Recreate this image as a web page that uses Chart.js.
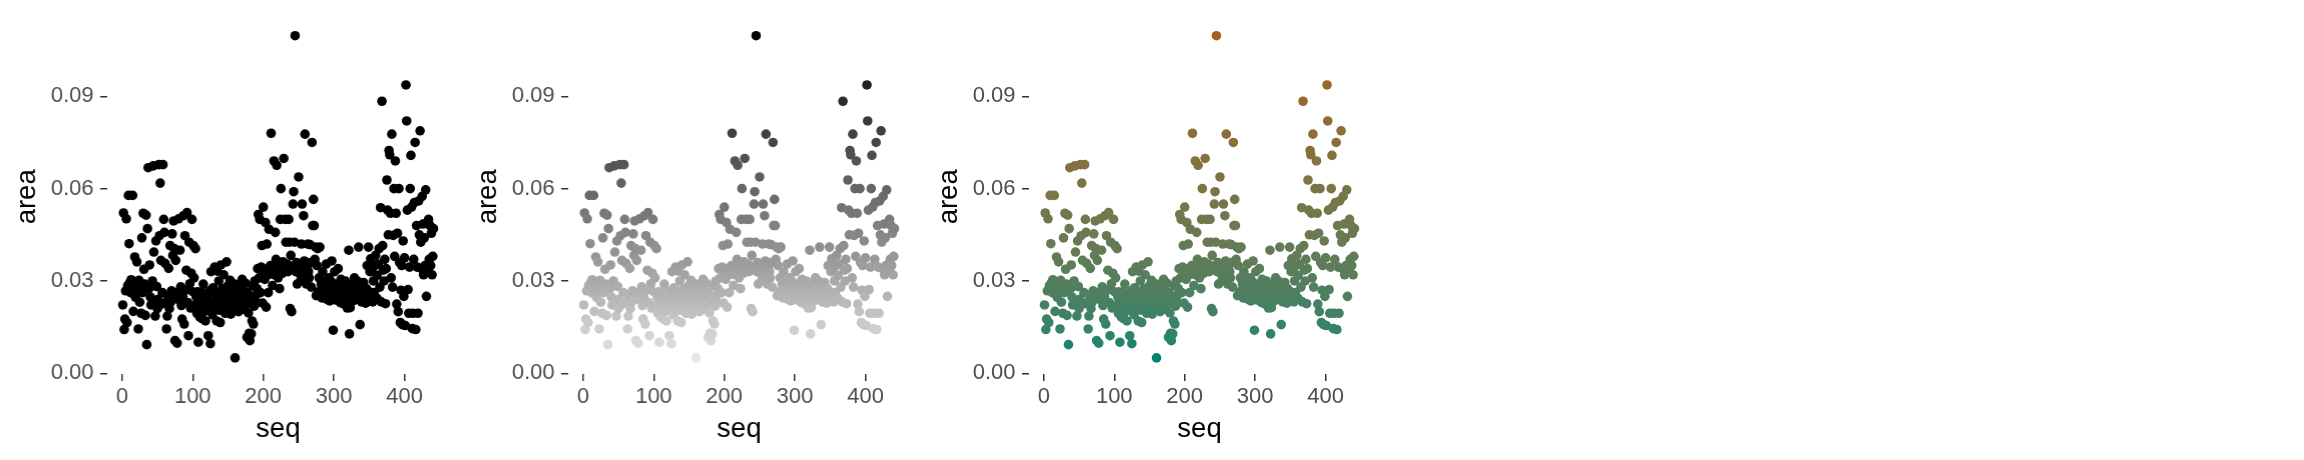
<!DOCTYPE html>
<html>
<head>
<meta charset="utf-8">
<script src="https://cdn.jsdelivr.net/npm/chart.js@4.4.1/dist/chart.umd.min.js"></script>
<style>
  html, body { margin: 0; padding: 0; background: #ffffff; }
  #wrap { position: relative; width: 2304px; height: 460px; }
  .panel { position: absolute; top: 0; width: 460.8px; height: 460px; }
</style>
</head>
<body>
<div id="wrap">
  <div class="panel" style="left:0px"><canvas id="plainCanvas"></canvas></div>
  <div class="panel" style="left:460.8px"><canvas id="greyCanvas"></canvas></div>
  <div class="panel" style="left:921.6px"><canvas id="brbgCanvas"></canvas></div>
</div>
<script>
// area per row, seq = row number (1..441)
const area = [
  0.0222, 0.0521, 0.0142, 0.0176, 0.0268, 0.0502, 0.0165, 0.0285, 0.0578, 0.0421,
  0.0295, 0.0262, 0.0304, 0.0276, 0.0578, 0.0201, 0.0288, 0.0378, 0.0247, 0.0270,
  0.0362, 0.0286, 0.0144, 0.0302, 0.0231, 0.0279, 0.0195, 0.0440, 0.0262, 0.0520,
  0.0338, 0.0290, 0.0188, 0.0514, 0.0093, 0.0470, 0.0668, 0.0275, 0.0352, 0.0248,
  0.0222, 0.0288, 0.0300, 0.0674, 0.0394, 0.0230, 0.0186, 0.0430, 0.0282, 0.0210,
  0.0240, 0.0678, 0.0447, 0.0618, 0.0367, 0.0225, 0.0262, 0.0678, 0.0500, 0.0458,
  0.0357, 0.0230, 0.0144, 0.0186, 0.0252, 0.0341, 0.0210, 0.0415, 0.0232, 0.0268,
  0.0453, 0.0383, 0.0495, 0.0405, 0.0106, 0.0367, 0.0245, 0.0098, 0.0263, 0.0502,
  0.0238, 0.0400, 0.0281, 0.0220, 0.0176, 0.0250, 0.0512, 0.0160, 0.0447, 0.0270,
  0.0335, 0.0522, 0.0230, 0.0122, 0.0426, 0.0291, 0.0212, 0.0325, 0.0500, 0.0265,
  0.0415, 0.0310, 0.0220, 0.0405, 0.0248, 0.0195, 0.0265, 0.0101, 0.0228, 0.0183,
  0.0210, 0.0240, 0.0178, 0.0262, 0.0290, 0.0200, 0.0232, 0.0170, 0.0255, 0.0218,
  0.0245, 0.0122, 0.0205, 0.0268, 0.0096, 0.0330, 0.0225, 0.0190, 0.0278, 0.0235,
  0.0345, 0.0212, 0.0258, 0.0170, 0.0332, 0.0228, 0.0300, 0.0205, 0.0165, 0.0352,
  0.0248, 0.0275, 0.0215, 0.0320, 0.0236, 0.0195, 0.0262, 0.0362, 0.0228, 0.0285,
  0.0210, 0.0248, 0.0302, 0.0192, 0.0270, 0.0232, 0.0215, 0.0258, 0.0290, 0.0050,
  0.0245, 0.0288, 0.0222, 0.0265, 0.0200, 0.0238, 0.0280, 0.0212, 0.0255, 0.0305,
  0.0230, 0.0268, 0.0208, 0.0248, 0.0292, 0.0225, 0.0117, 0.0262, 0.0196, 0.0130,
  0.0106, 0.0240, 0.0128, 0.0170, 0.0285, 0.0160, 0.0218, 0.0300, 0.0252, 0.0230,
  0.0275, 0.0340, 0.0516, 0.0310, 0.0500, 0.0262, 0.0345, 0.0415, 0.0228, 0.0540,
  0.0330, 0.0305, 0.0490, 0.0215, 0.0420, 0.0340, 0.0262, 0.0468, 0.0322, 0.0350,
  0.0780, 0.0330, 0.0285, 0.0345, 0.0690, 0.0320, 0.0458, 0.0370, 0.0676, 0.0338,
  0.0310, 0.0352, 0.0275, 0.0500, 0.0600, 0.0340, 0.0325, 0.0362, 0.0698, 0.0348,
  0.0500, 0.0426, 0.0335, 0.0355, 0.0330, 0.0500, 0.0426, 0.0210, 0.0383, 0.0200,
  0.0345, 0.0550, 0.0590, 0.0426, 0.1097, 0.0330, 0.0360, 0.0290, 0.0340, 0.0638,
  0.0325, 0.0350, 0.0302, 0.0420, 0.0550, 0.0335, 0.0512, 0.0365, 0.0777, 0.0318,
  0.0290, 0.0345, 0.0420, 0.0330, 0.0310, 0.0418, 0.0360, 0.0280, 0.0750, 0.0480,
  0.0565, 0.0480, 0.0370, 0.0410, 0.0252, 0.0350, 0.0405, 0.0265, 0.0310, 0.0410,
  0.0255, 0.0290, 0.0245, 0.0330, 0.0270, 0.0248, 0.0300, 0.0262, 0.0355, 0.0240,
  0.0280, 0.0252, 0.0310, 0.0235, 0.0268, 0.0298, 0.0365, 0.0242, 0.0140, 0.0275,
  0.0330, 0.0255, 0.0238, 0.0290, 0.0265, 0.0340, 0.0248, 0.0280, 0.0230, 0.0305,
  0.0262, 0.0245, 0.0285, 0.0225, 0.0270, 0.0300, 0.0240, 0.0255, 0.0212, 0.0290,
  0.0400, 0.0128, 0.0213, 0.0268, 0.0245, 0.0290, 0.0235, 0.0262, 0.0310, 0.0250,
  0.0275, 0.0240, 0.0300, 0.0258, 0.0410, 0.0245, 0.0158, 0.0285, 0.0232, 0.0268,
  0.0250, 0.0295, 0.0240, 0.0260, 0.0228, 0.0275, 0.0350, 0.0245, 0.0410, 0.0265,
  0.0330, 0.0372, 0.0250, 0.0340, 0.0232, 0.0300, 0.0262, 0.0350, 0.0383, 0.0245,
  0.0318, 0.0240, 0.0355, 0.0405, 0.0280, 0.0538, 0.0232, 0.0884, 0.0415, 0.0335,
  0.0300, 0.0370, 0.0226, 0.0340, 0.0628, 0.0530, 0.0450, 0.0724, 0.0710, 0.0520,
  0.0310, 0.0777, 0.0280, 0.0448, 0.0600, 0.0380, 0.0690, 0.0520, 0.0225, 0.0455,
  0.0200, 0.0600, 0.0360, 0.0165, 0.0270, 0.0350, 0.0158, 0.0430, 0.0250, 0.0375,
  0.0155, 0.0937, 0.0820, 0.0530, 0.0272, 0.0195, 0.0345, 0.0600, 0.0708, 0.0540,
  0.0145, 0.0195, 0.0370, 0.0555, 0.0750, 0.0142, 0.0480, 0.0345, 0.0195, 0.0560,
  0.0450, 0.0788, 0.0426, 0.0340, 0.0575, 0.0485, 0.0320, 0.0440, 0.0350, 0.0596,
  0.0250, 0.0490, 0.0330, 0.0500, 0.0370, 0.0480, 0.0350, 0.0455, 0.0320, 0.0380,
  0.0470
];

const xTicks = [0, 100, 200, 300, 400];
const yTicks = [0, 0.03, 0.06, 0.09];
const greyEnds = ['#E5E5E5', '#000000'];
const brbgEnds = ['#018571', '#A6611A'];

const FONT = '"Liberation Sans", Arial, sans-serif';

// colour helpers: interpolate in CIE Lab like ggplot's gradient
function hexToLab(hex) {
  const n = parseInt(hex.slice(1), 16);
  let rgb = [(n >> 16) & 255, (n >> 8) & 255, n & 255].map(c => {
    c /= 255;
    return c <= 0.04045 ? c / 12.92 : Math.pow((c + 0.055) / 1.055, 2.4);
  });
  const x = (rgb[0] * 0.4124 + rgb[1] * 0.3576 + rgb[2] * 0.1805) / 0.95047;
  const y = (rgb[0] * 0.2126 + rgb[1] * 0.7152 + rgb[2] * 0.0722);
  const z = (rgb[0] * 0.0193 + rgb[1] * 0.1192 + rgb[2] * 0.9505) / 1.08883;
  const f = t => t > 0.008856 ? Math.cbrt(t) : 7.787 * t + 16 / 116;
  return [116 * f(y) - 16, 500 * (f(x) - f(y)), 200 * (f(y) - f(z))];
}

function labToHex(lab) {
  const fy = (lab[0] + 16) / 116, fx = fy + lab[1] / 500, fz = fy - lab[2] / 200;
  const inv = t => t * t * t > 0.008856 ? t * t * t : (t - 16 / 116) / 7.787;
  const x = inv(fx) * 0.95047, y = inv(fy), z = inv(fz) * 1.08883;
  const lin = [
    x * 3.2406 + y * -1.5372 + z * -0.4986,
    x * -0.9689 + y * 1.8758 + z * 0.0415,
    x * 0.0557 + y * -0.2040 + z * 1.0570
  ];
  return '#' + lin.map(c => {
    c = c <= 0.0031308 ? 12.92 * c : 1.055 * Math.pow(c, 1 / 2.4) - 0.055;
    c = Math.round(Math.min(1, Math.max(0, c)) * 255);
    return c.toString(16).padStart(2, '0');
  }).join('');
}

function gradientColours(values, ends) {
  const lo = Math.min(...values), hi = Math.max(...values);
  const a = hexToLab(ends[0]), b = hexToLab(ends[1]);
  return values.map(v => {
    const t = (v - lo) / (hi - lo);
    return labToHex([0, 1, 2].map(i => a[i] + (b[i] - a[i]) * t));
  });
}

const points = area.map((v, i) => ({ x: i + 1, y: v }));

function makeChart(canvasId, colours) {
  return new Chart(document.getElementById(canvasId), {
    type: 'scatter',
    data: {
      datasets: [{
        data: points,
        backgroundColor: colours,
        borderWidth: 0,
        pointRadius: 4.8,
        pointHoverRadius: 4.8
      }]
    },
    options: {
      responsive: true,
      maintainAspectRatio: false,
      animation: false,
      events: [],
      layout: { padding: { left: 0, right: 12.8, top: 14.6, bottom: 0 } },
      plugins: { legend: { display: false }, tooltip: { enabled: false } },
      scales: {
        x: {
          type: 'linear',
          min: -21,
          max: 463,
          afterBuildTicks: s => { s.ticks = xTicks.map(v => ({ value: v })); },
          afterFit: s => { s.height = 86; },
          grid: { display: true, drawOnChartArea: false, drawTicks: true, tickLength: 7, color: '#333333', lineWidth: 1.5 },
          border: { display: false },
          ticks: { autoSkip: false, maxRotation: 0, padding: 3, color: '#4D4D4D', font: { family: FONT, size: 22 }, callback: v => String(v) },
          title: { display: true, text: 'seq', color: '#000000', font: { family: FONT, size: 27.5 }, padding: { top: 0, bottom: 14 } }
        },
        y: {
          type: 'linear',
          min: -0.00024,
          max: 0.1149,
          afterBuildTicks: s => { s.ticks = yTicks.map(v => ({ value: v })); },
          afterFit: s => { s.width = 107; },
          grid: { display: true, drawOnChartArea: false, drawTicks: true, tickLength: 7, color: '#333333', lineWidth: 1.5 },
          border: { display: false },
          ticks: { autoSkip: false, padding: 6.5, color: '#4D4D4D', font: { family: FONT, size: 22 }, callback: v => v.toFixed(2) },
          title: { display: true, text: 'area', color: '#000000', font: { family: FONT, size: 27.5 }, padding: { top: 10.5, bottom: 0 } }
        }
      }
    }
  });
}

makeChart('plainCanvas', area.map(() => '#000000'));
makeChart('greyCanvas', gradientColours(area, greyEnds));
makeChart('brbgCanvas', gradientColours(area, brbgEnds));
</script>
</body>
</html>
